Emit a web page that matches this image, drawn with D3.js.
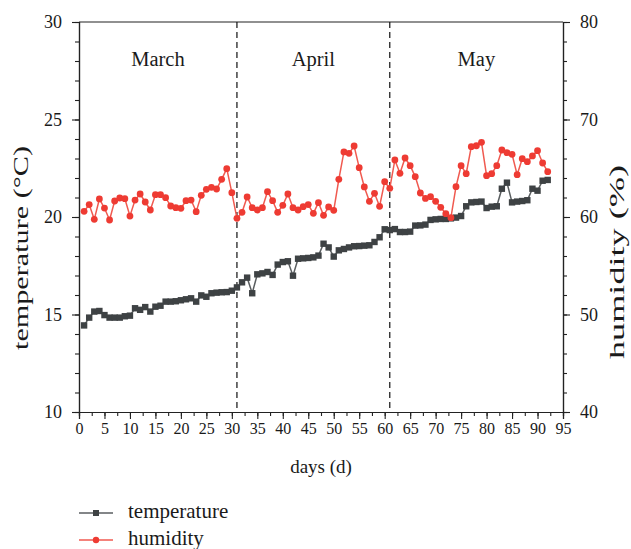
<!DOCTYPE html>
<html>
<head>
<meta charset="utf-8">
<script src="https://cdn.jsdelivr.net/npm/d3@7"></script>
<style>
  body { margin: 0; background: #fff; }
  text { font-family: "Liberation Serif", "DejaVu Serif", serif; fill: #1a1a1a; }
</style>
</head>
<body>
<div id="chart"></div>
<script>
var days = d3.range(1, 93);

var temperature = [14.44, 14.84, 15.15, 15.18, 14.97, 14.84, 14.84, 14.84, 14.91, 14.94,
  15.32, 15.24, 15.38, 15.15, 15.40, 15.45, 15.66, 15.66, 15.68, 15.73,
  15.78, 15.83, 15.66, 15.98, 15.91, 16.09, 16.12, 16.14, 16.15, 16.22,
  16.39, 16.65, 16.89, 16.09, 17.06, 17.11, 17.18, 17.03, 17.56, 17.69,
  17.73, 16.99, 17.86, 17.88, 17.90, 17.93, 18.02, 18.63, 18.44, 17.97,
  18.29, 18.36, 18.44, 18.50, 18.51, 18.53, 18.55, 18.72, 18.96, 19.37,
  19.33, 19.38, 19.23, 19.23, 19.25, 19.56, 19.57, 19.61, 19.85, 19.88,
  19.90, 19.90, 19.93, 19.97, 20.05, 20.55, 20.75, 20.77, 20.79, 20.46,
  20.53, 20.55, 21.45, 21.76, 20.75, 20.79, 20.82, 20.86, 21.45, 21.35,
  21.86, 21.90];

var humidity = [60.58, 61.27, 59.76, 61.85, 60.92, 59.69, 61.64, 61.95, 61.88, 60.10,
  61.74, 62.36, 61.54, 60.72, 62.29, 62.29, 61.98, 61.13, 60.96, 60.89,
  61.67, 61.74, 60.55, 62.22, 62.84, 63.04, 62.87, 63.86, 64.96, 62.50,
  59.86, 60.48, 62.05, 60.96, 60.72, 60.96, 62.60, 61.67, 60.48, 61.20,
  62.36, 60.96, 60.72, 61.06, 61.27, 60.38, 61.47, 60.17, 61.03, 60.68,
  63.86, 66.67, 66.53, 67.28, 65.06, 63.08, 61.61, 62.43, 61.10, 63.62,
  62.94, 65.85, 64.48, 66.05, 65.26, 64.14, 62.46, 61.91, 62.08, 61.61,
  60.99, 60.34, 59.93, 63.11, 65.26, 64.44, 67.21, 67.31, 67.66, 64.24,
  64.44, 65.26, 66.87, 66.60, 66.43, 64.34, 65.98, 65.67, 66.26, 66.80,
  65.54, 64.65];

var months = ["March", "April", "May"];
var monthCenters = [15.5, 46, 78];
var monthBreaks = [31, 61];

var xTicks = d3.range(0, 96, 5);
var xMinorTicks = d3.range(0, 95.1, 2.5);
var tempTicks = [10, 15, 20, 25, 30];
var tempMinorTicks = d3.range(10, 31, 1);
var humTicks = [40, 50, 60, 70, 80];
var humMinorTicks = d3.range(40, 81, 2);

var margin = {top: 22, right: 68, bottom: 137, left: 79},
    width = 631 - margin.left - margin.right,
    height = 549 - margin.top - margin.bottom;

var tempColor = "#3e4244", tempLine = "#5a5e60";
var humColor = "#ee3b33", humLine = "#f05a50";

var svg = d3.select("#chart").append("svg")
    .attr("width", 631)
    .attr("height", 549)
  .append("g")
    .attr("transform", "translate(" + margin.left + "," + margin.top + ")");

var x = d3.scaleLinear().domain([0, 95]).range([0, width]);
var yT = d3.scaleLinear().domain([10, 30]).range([height, 0]);
var yH = d3.scaleLinear().domain([40, 80]).range([height, 0]);

// minor ticks first, then majors with labels
svg.append("g")
    .attr("transform", "translate(0," + height + ")")
    .call(d3.axisBottom(x).tickValues(xMinorTicks).tickSize(4).tickFormat(""));
svg.append("g")
    .attr("class", "x axis")
    .attr("transform", "translate(0," + height + ")")
    .call(d3.axisBottom(x).tickValues(xTicks).tickSize(7).tickPadding(4))
    .selectAll("text").style("font-size", "16px");

svg.append("g")
    .call(d3.axisLeft(yT).tickValues(tempMinorTicks).tickSize(4).tickFormat(""));
svg.append("g")
    .attr("class", "y axis")
    .call(d3.axisLeft(yT).tickValues(tempTicks).tickSize(7).tickPadding(10))
    .selectAll("text").style("font-size", "18px");

svg.append("g")
    .attr("transform", "translate(" + width + ",0)")
    .call(d3.axisRight(yH).tickValues(humMinorTicks).tickSize(4).tickFormat(""));
svg.append("g")
    .attr("transform", "translate(" + width + ",0)")
    .call(d3.axisRight(yH).tickValues(humTicks).tickSize(7).tickPadding(10))
    .selectAll("text").style("font-size", "18px");

svg.selectAll(".domain").attr("stroke", "#222").attr("stroke-width", 1.2);
svg.selectAll(".tick line").attr("stroke", "#222").attr("stroke-width", 1.1);

// top frame
svg.append("line")
    .attr("x1", 0).attr("x2", width)
    .attr("y1", 0).attr("y2", 0)
    .attr("stroke", "#222").attr("stroke-width", 1.2);

// month separators
svg.selectAll(".sep")
    .data(monthBreaks)
  .enter().append("line")
    .attr("class", "sep")
    .attr("x1", function(d) { return x(d); })
    .attr("x2", function(d) { return x(d); })
    .attr("y1", 0).attr("y2", height)
    .attr("stroke", "#111")
    .attr("stroke-width", 1.2)
    .attr("stroke-dasharray", "6,4");

svg.selectAll(".month")
    .data(months)
  .enter().append("text")
    .attr("class", "month")
    .attr("x", function(d, i) { return x(monthCenters[i]); })
    .attr("y", 44)
    .style("text-anchor", "middle")
    .style("font-size", "20.5px")
    .text(function(d) { return d; });

// temperature
var lineT = d3.line()
    .x(function(d, i) { return x(days[i]); })
    .y(function(d) { return yT(d); });

svg.append("path")
    .datum(temperature)
    .attr("fill", "none")
    .attr("stroke", tempLine)
    .attr("stroke-width", 1.5)
    .attr("d", lineT);

svg.selectAll(".tpt")
    .data(temperature)
  .enter().append("rect")
    .attr("class", "tpt")
    .attr("x", function(d, i) { return x(days[i]) - 3.2; })
    .attr("y", function(d) { return yT(d) - 3.2; })
    .attr("width", 6.4)
    .attr("height", 6.4)
    .style("fill", tempColor);

// humidity
var lineH = d3.line()
    .x(function(d, i) { return x(days[i]); })
    .y(function(d) { return yH(d); });

svg.append("path")
    .datum(humidity)
    .attr("fill", "none")
    .attr("stroke", humLine)
    .attr("stroke-width", 1.5)
    .attr("d", lineH);

svg.selectAll(".hpt")
    .data(humidity)
  .enter().append("circle")
    .attr("class", "hpt")
    .attr("cx", function(d, i) { return x(days[i]); })
    .attr("cy", function(d) { return yH(d); })
    .attr("r", 3.4)
    .style("fill", humColor);

// axis titles, a bit drawn out along the axis like the original
svg.append("text")
    .attr("transform", "translate(" + (-margin.left + 28) + "," + 226 + ") rotate(-90)")
    .style("text-anchor", "middle")
    .style("font-size", "20px")
    .attr("textLength", 204)
    .attr("lengthAdjust", "spacingAndGlyphs")
    .text("temperature (°C)");

svg.append("text")
    .attr("transform", "translate(" + (width + 61) + "," + 240 + ") rotate(-90)")
    .style("text-anchor", "middle")
    .style("font-size", "20px")
    .attr("textLength", 194)
    .attr("lengthAdjust", "spacingAndGlyphs")
    .text("humidity (%)");

svg.append("text")
    .attr("x", width / 2)
    .attr("y", height + 61)
    .style("text-anchor", "middle")
    .style("font-size", "19px")
    .text("days (d)");

// legend
var legendNames = ["temperature", "humidity"];
var legend = svg.selectAll(".legend")
    .data(legendNames)
  .enter().append("g")
    .attr("class", "legend")
    .attr("transform", function(d, i) {
      return "translate(0," + (height + 101 + i * 27) + ")"; });

legend.append("line")
    .attr("x1", 0).attr("x2", 34)
    .attr("y1", 0).attr("y2", 0)
    .attr("stroke", function(d, i) { return i == 0 ? tempLine : humLine; })
    .attr("stroke-width", 1.5);

legend.filter(function(d, i) { return i == 0; }).append("rect")
    .attr("x", 14).attr("y", -3)
    .attr("width", 6).attr("height", 6)
    .style("fill", tempColor);

legend.filter(function(d, i) { return i == 1; }).append("circle")
    .attr("cx", 17).attr("cy", 0)
    .attr("r", 3.2)
    .style("fill", humColor);

legend.append("text")
    .attr("x", 49)
    .attr("y", 5)
    .style("font-size", "21px")
    .text(function(d) { return d; });
</script>
</body>
</html>
